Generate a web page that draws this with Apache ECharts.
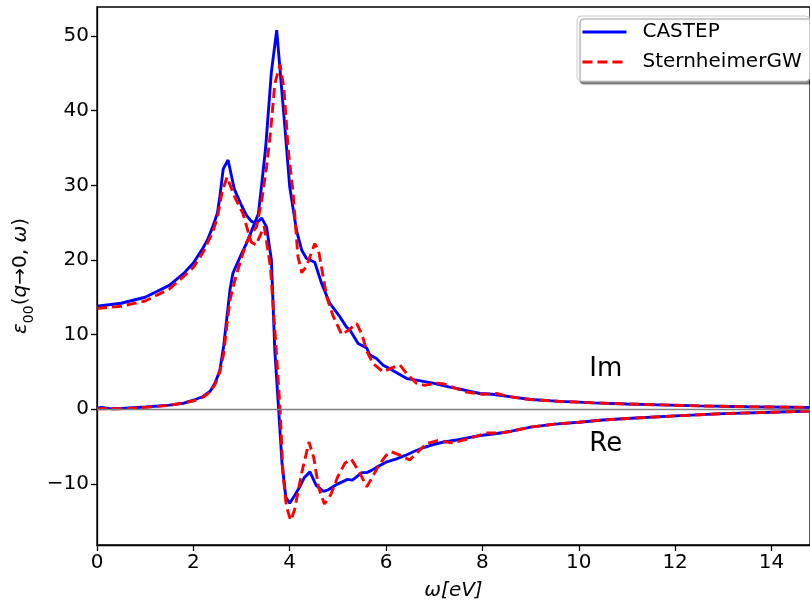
<!DOCTYPE html>
<html>
<head>
<meta charset="utf-8">
<script src="https://cdn.jsdelivr.net/npm/echarts@6/dist/echarts.min.js"></script>
<style>
html,body{margin:0;padding:0;background:#fff;}
#chart{width:810px;height:607px;}
</style>
</head>
<body>
<div id="chart"></div>
<script>
// ---- Data ----
// CASTEP, real part
const omegaReCastep = [0,0.5,1.0,1.5,1.8,2.0,2.2,2.3,2.4,2.5,2.55,2.62,2.72,2.85,3.0,3.1,3.2,3.3,3.42,3.52,3.62,3.69,3.77,3.84,3.92,4.0,4.1,4.2,4.3,4.42,4.55,4.7,4.8,5.0,5.2,5.3,5.4,5.5,5.6,5.7,5.8,6.0,6.2,6.4,6.6,6.8,7.0,7.2,7.5,7.8,8.0,8.3,8.6,9.0,9.5,10.0,10.5,11.0,12.0,13.0,14.0,14.8];
const reCastep      = [13.8,14.2,15.0,16.6,18.2,19.6,21.6,22.8,24.4,26.3,28.5,32.2,33.4,29.5,27.3,26.0,25.2,24.9,25.6,24.4,20.0,8.0,0,-7.2,-11.8,-12.6,-11.6,-10.5,-9.2,-8.4,-10.2,-11.0,-10.8,-10.0,-9.4,-9.5,-9.0,-8.5,-8.5,-8.2,-7.8,-7.1,-6.7,-6.2,-5.6,-5.1,-4.7,-4.4,-4.1,-3.7,-3.5,-3.25,-2.95,-2.4,-2.0,-1.75,-1.45,-1.25,-0.9,-0.6,-0.4,-0.25];
// CASTEP, imaginary part
const omegaImCastep = [0,0.1,0.3,0.5,1.0,1.5,1.8,2.0,2.2,2.35,2.45,2.55,2.63,2.7,2.76,2.82,2.97,3.1,3.24,3.35,3.42,3.5,3.62,3.73,3.9,4.0,4.14,4.25,4.35,4.52,4.66,4.83,5.04,5.18,5.25,5.42,5.6,5.66,5.8,5.94,6.14,6.43,6.63,6.97,7.3,7.6,7.95,8.2,8.6,9.0,9.6,10.0,10.3,11.0,11.7,12.5,13.5,14.8];
const imCastep      = [0.15,0.25,0.05,0.1,0.3,0.55,0.8,1.2,1.7,2.4,3.5,5.2,8.5,12.5,16.0,18.2,20.4,22.2,24.4,26.2,30.2,35.0,45.2,50.8,37.8,29.8,24.0,21.3,20.2,19.7,16.9,14.2,12.4,11.0,10.6,8.8,8.2,7.3,6.8,5.9,5.2,4.1,3.9,3.5,3.0,2.6,2.1,2.0,1.65,1.3,1.05,0.95,0.85,0.7,0.58,0.45,0.33,0.23];
// SternheimerGW, real part
const omegaReSgw = [0,0.5,1.0,1.5,1.8,2.0,2.2,2.4,2.5,2.6,2.7,2.86,3.03,3.2,3.3,3.47,3.6,3.72,3.8,3.86,3.93,4.02,4.1,4.25,4.4,4.5,4.6,4.72,4.85,5.0,5.15,5.28,5.45,5.6,5.7,5.85,6.0,6.11,6.3,6.49,6.65,6.84,7.07,7.25,7.39,7.74,8.08,8.36,8.57,9.0,9.5,10.0,10.5,11.0,12.0,13.0,14.0,14.8];
const reSgw      = [13.5,13.8,14.5,16.1,17.8,19.0,21.0,23.7,25.7,29.2,31.1,28.4,26.2,22.4,22.0,24.5,19.1,8.0,0,-8.6,-13.0,-14.9,-13.5,-8.5,-4.4,-6.5,-10.5,-12.7,-11.5,-9.0,-7.2,-6.7,-8.5,-10.4,-9.3,-7.5,-6.2,-5.7,-6.2,-6.8,-5.8,-4.6,-4.2,-4.4,-4.5,-3.9,-3.2,-3.2,-3.0,-2.4,-2.0,-1.75,-1.45,-1.25,-0.9,-0.6,-0.4,-0.25];
// SternheimerGW, imaginary part
const omegaImSgw = [0,0.5,1.0,1.5,2.0,2.2,2.35,2.45,2.55,2.63,2.7,2.76,2.85,3.0,3.1,3.2,3.31,3.42,3.52,3.6,3.69,3.8,3.88,3.97,4.07,4.17,4.25,4.35,4.52,4.6,4.77,4.9,5.08,5.2,5.39,5.5,5.6,5.73,5.94,6.1,6.29,6.45,6.63,6.8,7.05,7.2,7.45,7.67,8.0,8.3,8.5,8.8,9.0,9.6,10.0,10.3,11.0,11.7,12.5,13.5,14.8];
const imSgw      = [0.05,0.05,0.25,0.5,1.1,1.6,2.3,3.3,5.0,7.5,11.5,14.6,17.0,20.3,22.3,23.5,24.4,28.0,32.5,37.0,43.6,46.2,43.0,34.7,29.0,20.5,18.3,19.2,22.2,21.2,15.0,12.5,10.0,10.5,11.5,10.0,7.8,6.1,5.0,5.5,5.9,4.6,3.5,3.2,3.5,3.4,2.8,2.3,2.0,2.1,1.75,1.45,1.3,1.05,0.95,0.85,0.7,0.58,0.45,0.33,0.23];

// Tick values
const xTicks = [0,2,4,6,8,10,12,14];
const yTicks = [-10,0,10,20,30,40,50];
// Text annotations [omega, value, text]
const annotations = [[10.56,5.36,'Im'],[10.56,-4.69,'Re']];

const seriesNames = ['CASTEP','SternheimerGW'];

function pairs(xs, ys){ return xs.map((x,i)=>[x, ys[i]]); }

const FONT = 'DejaVu Sans';
const fmt = v => String(v).replace('-', '\u2212');

const blueStyle = {color:'#0000ff', width:2.9, type:'solid'};
const redStyle  = {color:'#ff0000', width:2.9, type:[10,5]};

const chart = echarts.init(document.getElementById('chart'), null, {renderer:'canvas'});
chart.setOption({
  animation:false,
  backgroundColor:'#ffffff',
  textStyle:{fontFamily:FONT},
  grid:{left:97, right:-1, top:7, bottom:62, show:true, borderColor:'#000', borderWidth:1.3, backgroundColor:'transparent'},
  legend:{
    data:seriesNames,
    orient:'vertical',
    left:577, top:16,
    padding:[6,8,9,4],
    itemGap:10,
    itemWidth:44, itemHeight:20,
    backgroundColor:'#fff',
    borderColor:'#cccccc', borderWidth:1, borderRadius:4,
    shadowColor:'rgba(0,0,0,0.45)', shadowBlur:1, shadowOffsetX:3, shadowOffsetY:3,
    itemStyle:{color:'rgba(0,0,0,0)', borderWidth:0, opacity:0},
    lineStyle:{width:2.9},
    textStyle:{fontFamily:FONT, fontSize:20, color:'#000', rich:{a:{fontFamily:FONT, fontSize:20, color:'#000', padding:[0,0,0,11]}}},
    formatter: n => '{a|' + n + '}'
  },
  xAxis:{
    type:'value', min:0, max:14.8,
    name:'ω[eV]', nameLocation:'middle', nameGap:36,
    nameTextStyle:{fontFamily:FONT, fontSize:20, fontStyle:'italic', color:'#000'},
    axisLine:{show:true, onZero:false, lineStyle:{color:'#000', width:1.3}},
    axisTick:{show:true, inside:false, length:6, customValues:xTicks, lineStyle:{color:'#000', width:1.3}},
    axisLabel:{customValues:xTicks, fontFamily:FONT, fontSize:20, color:'#000', margin:8, formatter:fmt},
    splitLine:{show:false}
  },
  yAxis:{
    type:'value', min:-18.2, max:53.9,
    name:'{it|ε}{sub|00}{n|(}{it|q}{n|→0, }{it|ω}{n|)}', nameLocation:'middle', nameGap:58, nameRotate:90,
    nameTextStyle:{fontFamily:FONT, fontSize:20, color:'#000',
      rich:{
        it:{fontFamily:FONT, fontSize:20, fontStyle:'italic', color:'#000', lineHeight:30, verticalAlign:'middle'},
        n:{fontFamily:FONT, fontSize:20, color:'#000', lineHeight:30, verticalAlign:'middle'},
        sub:{fontFamily:FONT, fontSize:14, color:'#000', lineHeight:30, verticalAlign:'bottom'}
      }},
    axisLine:{show:true, onZero:false, lineStyle:{color:'#000', width:1.3}},
    axisTick:{show:true, inside:false, length:6, customValues:yTicks, lineStyle:{color:'#000', width:1.3}},
    axisLabel:{customValues:yTicks, fontFamily:FONT, fontSize:20, color:'#000', margin:8, formatter:fmt},
    splitLine:{show:false}
  },
  series:[
    {name:'CASTEP', type:'line', data:pairs(omegaReCastep, reCastep), showSymbol:false, symbol:'none', lineStyle:blueStyle, itemStyle:{color:'#0000ff'}, z:3,
      markLine:{silent:true, symbol:['none','none'], label:{show:false}, lineStyle:{color:'#7f7f7f', width:1.3, type:'solid'}, data:[{yAxis:0}], animation:false}},
    {name:'CASTEP', type:'line', data:pairs(omegaImCastep, imCastep), showSymbol:false, symbol:'none', lineStyle:blueStyle, itemStyle:{color:'#0000ff'}, z:3},
    {name:'SternheimerGW', type:'line', data:pairs(omegaReSgw, reSgw), showSymbol:false, symbol:'none', lineStyle:redStyle, itemStyle:{color:'#ff0000'}, z:4},
    {name:'SternheimerGW', type:'line', data:pairs(omegaImSgw, imSgw), showSymbol:false, symbol:'none', lineStyle:redStyle, itemStyle:{color:'#ff0000'}, z:4},
    {name:'labels', type:'scatter', data:annotations, symbolSize:0, silent:true, z:5,
      itemStyle:{opacity:1, color:'#000'},
      label:{show:true, position:'inside', formatter:p => p.value[2], fontFamily:FONT, fontSize:26, color:'#000', opacity:1}}
  ]
});
</script>
</body>
</html>
